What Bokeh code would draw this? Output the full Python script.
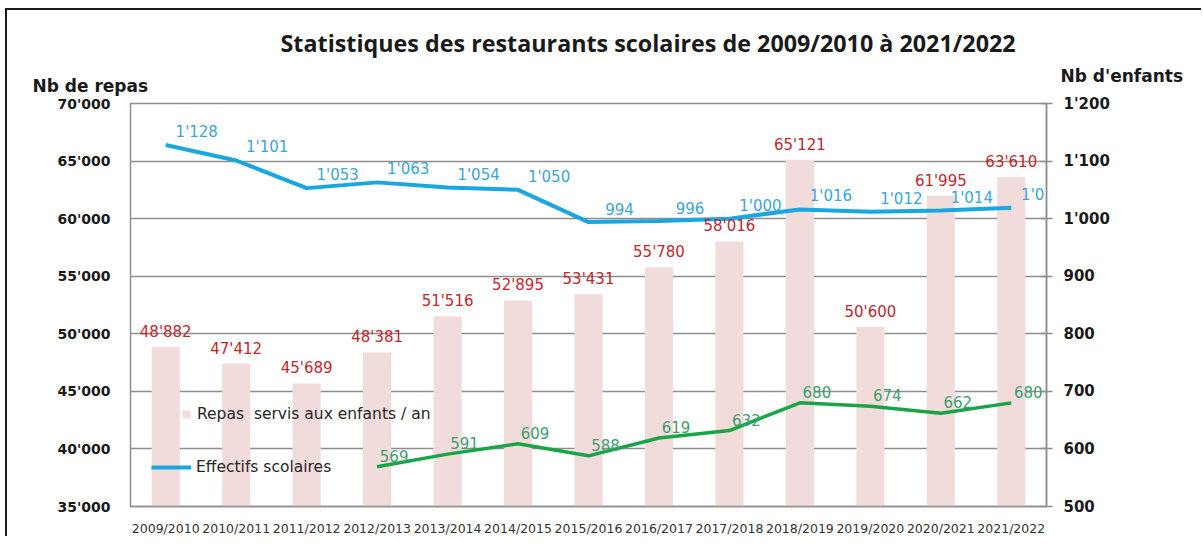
from bokeh.plotting import figure
from bokeh.models import (Range1d, LinearAxis, FixedTicker, Legend, LegendItem,
                          Title, ColumnDataSource, FactorRange)
from bokeh.core.properties import value
from bokeh.embed import file_html
from bokeh.resources import INLINE

# ---------------- data ----------------
categories = ["2009/2010", "2010/2011", "2011/2012", "2012/2013", "2013/2014",
              "2014/2015", "2015/2016", "2016/2017", "2017/2018", "2018/2019",
              "2019/2020", "2020/2021", "2021/2022"]
repas = [48882, 47412, 45689, 48381, 51516, 52895, 53431, 55780, 58016,
         65121, 50600, 61995, 63610]
effectifs = [1128, 1101, 1053, 1063, 1054, 1050, 994, 996, 1000, 1016,
             1012, 1014, 1019]
green_categories = ["2012/2013", "2013/2014", "2014/2015", "2015/2016",
                    "2016/2017", "2017/2018", "2018/2019", "2019/2020",
                    "2020/2021", "2021/2022"]
green_values = [569, 591, 609, 588, 619, 632, 680, 674, 662, 680]

left_ticks = [35000, 40000, 45000, 50000, 55000, 60000, 65000, 70000]
left_tick_labels = ["35'000", "40'000", "45'000", "50'000", "55'000",
                    "60'000", "65'000", "70'000"]
right_ticks = [500, 600, 700, 800, 900, 1000, 1100, 1200]
right_tick_labels = ["500", "600", "700", "800", "900", "1'000", "1'100", "1'200"]

title_text = "Statistiques des restaurants scolaires de 2009/2010 à 2021/2022"
left_title = "Nb de repas"
right_title = "Nb d'enfants"
legend_bar = "Repas  servis aux enfants / an"
legend_line = "Effectifs scolaires"


def fmt(v):
    return f"{v:,}".replace(",", "'")


# ---------------- styles ----------------
FONT = "DejaVu Sans"
BAR_COLOR = "#F2DCDB"
BLUE = "#1AA7E0"
BLUE_TXT = "#3AA6D9"
RED_TXT = "#C0282D"
GREEN = "#17A548"
GREEN_TXT = "#3E9E70"
GRID = "#8F8F8F"

p = figure(width=1196, height=528, x_range=FactorRange(*categories),
           y_range=Range1d(35000, 70000), output_backend="svg",
           toolbar_location=None, title=None,
           min_border_left=123, min_border_right=157,
           min_border_top=93, min_border_bottom=31)
p.styles = {"margin-left": "5px", "margin-top": "8px",
            "border-left": "2px solid #1a1a1a",
            "border-top": "2px solid #1a1a1a"}
p.extra_y_ranges = {"right": Range1d(500, 1200)}

p.outline_line_color = GRID
p.outline_line_width = 1.5
p.background_fill_color = "white"
p.border_fill_color = "white"

# grid
p.xgrid.grid_line_color = None
p.ygrid.grid_line_color = GRID
p.ygrid.grid_line_width = 1.5
p.ygrid.ticker = FixedTicker(ticks=left_ticks)

# left axis
la = p.yaxis[0]
la.ticker = FixedTicker(ticks=left_ticks)
la.major_label_overrides = {t: l for t, l in zip(left_ticks, left_tick_labels)}
la.axis_line_color = None
la.major_tick_line_color = None
la.minor_tick_line_color = None
la.major_label_text_font = FONT
la.major_label_text_font_style = "bold"
la.major_label_text_font_size = "14px"
la.major_label_text_color = "#1a1a1a"
la.major_label_standoff = 14

# right axis
ra = LinearAxis(y_range_name="right", ticker=FixedTicker(ticks=right_ticks))
ra.major_label_overrides = {t: l for t, l in zip(right_ticks, right_tick_labels)}
ra.axis_line_color = GRID
ra.axis_line_width = 1.5
ra.major_tick_line_color = GRID
ra.major_tick_line_width = 1.5
ra.major_tick_in = 6
ra.major_tick_out = 6
ra.minor_tick_line_color = None
ra.major_label_text_font = FONT
ra.major_label_text_font_style = "bold"
ra.major_label_text_font_size = "15px"
ra.major_label_text_color = "#1a1a1a"
ra.major_label_standoff = 11
p.add_layout(ra, "right")

# x axis
xa = p.xaxis[0]
xa.axis_line_color = GRID
xa.axis_line_width = 1.5
xa.major_tick_line_color = None
xa.minor_tick_line_color = None
xa.major_label_text_font = FONT
xa.major_label_text_font_size = "12.5px"
xa.major_label_text_color = "#333333"
xa.major_label_standoff = 8

# bars
bar_src = ColumnDataSource(dict(x=categories, top=repas,
                                label=[fmt(v) for v in repas]))
bars = p.vbar(x="x", top="top", bottom=35000, width=0.4, source=bar_src,
              fill_color=BAR_COLOR, line_color=None)

# lines
blue_src = ColumnDataSource(dict(x=categories, y=effectifs,
                                 label=[fmt(v) for v in effectifs]))
blue = p.line(x="x", y="y", source=blue_src, y_range_name="right",
              line_color=BLUE, line_width=4)
green_src = ColumnDataSource(dict(x=green_categories, y=green_values,
                                  label=[fmt(v) for v in green_values]))
p.line(x="x", y="y", source=green_src, y_range_name="right",
       line_color=GREEN, line_width=3.5)

# data labels
p.text(x="x", y="top", text="label", source=bar_src,
       text_font=value(FONT), text_font_size=value("15px"),
       text_color=RED_TXT, text_align="center", text_baseline="middle",
       y_offset=-15)
p.text(x="x", y="y", text="label", source=blue_src, y_range_name="right",
       text_font=value(FONT), text_font_size=value("15px"),
       text_color=BLUE_TXT, text_align="center", text_baseline="middle",
       x_offset=31, y_offset=-13)
p.text(x="x", y="y", text="label", source=green_src, y_range_name="right",
       text_font=value(FONT), text_font_size=value("15px"),
       text_color=GREEN_TXT, text_align="center", text_baseline="middle",
       x_offset=17, y_offset=-11)

# legends
leg1 = Legend(items=[LegendItem(label=legend_bar, renderers=[bars])],
              location=(51, 83), glyph_width=10, glyph_height=10,
              label_height=10, label_standoff=6, padding=0, margin=0,
              border_line_color=None, background_fill_alpha=0,
              label_text_font=FONT, label_text_font_size="15.5px",
              label_text_color="#262626")
leg2 = Legend(items=[LegendItem(label=legend_line, renderers=[blue])],
              location=(21, 29), glyph_width=40, glyph_height=20,
              label_height=20, label_standoff=5, padding=0, margin=0,
              border_line_color=None, background_fill_alpha=0,
              label_text_font=FONT, label_text_font_size="15.5px",
              label_text_color="#262626")
p.add_layout(leg1)
p.add_layout(leg2)

# titles stacked above the frame
t_left = Title(text=left_title, align="left", offset=-98, standoff=16,
               text_font=FONT, text_font_style="bold", text_font_size="17px",
               text_color="#1a1a1a")
t_right = Title(text=right_title, align="left", offset=930, standoff=-40,
                text_font=FONT, text_font_style="bold", text_font_size="17px",
                text_color="#1a1a1a")
t_main = Title(text=title_text, align="left", offset=150, standoff=13,
               text_font="Open Sans", text_font_style="bold",
               text_font_size="23.3px", text_color="#1a1a1a")
p.add_layout(t_left, "above")
p.add_layout(t_right, "above")
p.add_layout(t_main, "above")

open("out.html", "w").write(file_html(p, INLINE))
